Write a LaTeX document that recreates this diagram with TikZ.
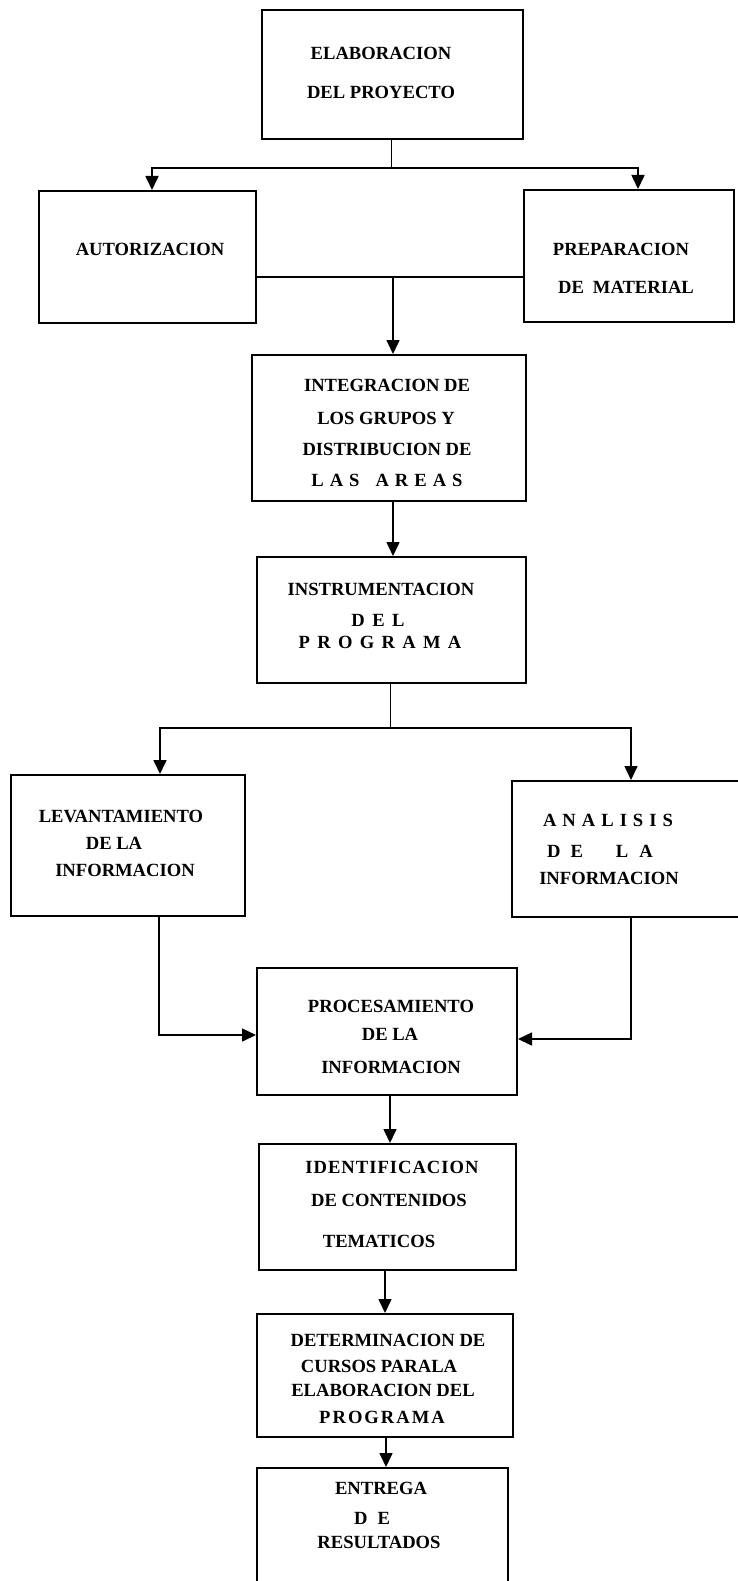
\documentclass[tikz,border=0pt]{standalone}
\usepackage{fontspec}
\setmainfont{Liberation Serif}
\usetikzlibrary{arrows.meta,calc}
\newcommand\gp[1]{\kern#1pt\relax}
\begin{document}
\begin{tikzpicture}[x=1pt,y=-1pt,
  box/.style={draw=black, line width=2pt, inner sep=0pt, fill=none},
  txt/.style={font=\bfseries\fontsize{18.6}{22}\selectfont, inner sep=0pt, anchor=center, text=black},
  conn/.style={draw=black, line width=1.6pt},
  arr/.style={conn, -{Triangle[length=14pt,width=13pt]}}]
\useasboundingbox (0,0) rectangle (738,1581);
\clip (0,0) rectangle (738,1581);
\fill[white] (0,0) rectangle (738,1581);

% boxes
\node[box, minimum width=261pt, minimum height=129pt] (b1) at (392.5,74.5) {};
\node[box, minimum width=217pt, minimum height=132pt] (aut) at (147.5,257) {};
\node[box, minimum width=210pt, minimum height=132pt] (prep) at (629,256) {};
\node[box, minimum width=274pt, minimum height=146pt] (integ) at (389,428) {};
\node[box, minimum width=269pt, minimum height=126pt] (instr) at (391.5,620) {};
\node[box, minimum width=234pt, minimum height=141pt] (lev) at (128,845.5) {};
\node[box, minimum width=233pt, minimum height=136pt] (anal) at (628.5,849) {};
\node[box, minimum width=260pt, minimum height=127pt] (proc) at (387,1031.5) {};
\node[box, minimum width=257pt, minimum height=126pt] (ident) at (387.5,1207) {};
\node[box, minimum width=256pt, minimum height=123pt] (det) at (385,1375.5) {};
\node[box, minimum width=251pt, minimum height=132pt] (entr) at (382.5,1534) {};

% texts
\node[txt] (t1a) at (381,53) {ELABORACION};
\node[txt] (t1b) at (381,92) {DEL PROYECTO};
\node[txt] (t2) at (150,249) {AUTORIZACION};
\node[txt] (t3a) at (621,249) {PREPARACION};
\node[txt] (t3b) at (626,287) {DE\gp{9}MATERIAL};
\node[txt] (t4a) at (387,385) {INTEGRACION DE};
\node[txt] (t4b) at (386,418) {LOS GRUPOS Y};
\node[txt] (t4c) at (387,449) {DISTRIBUCION DE};
\node[txt] (t4d) at (387,480) {L\gp{6}A\gp{6}S\gp{16}A\gp{6}R\gp{6}E\gp{6}A\gp{6}S};
\node[txt] (t5a) at (381,589) {INSTRUMENTACION};
\node[txt] (t5b) at (378,620) {D\gp{7.5}E\gp{7.5}L};
\node[txt] (t5c) at (380,642) {P\gp{7.3}R\gp{7.3}O\gp{7.3}G\gp{7.3}R\gp{7.3}A\gp{7.3}M\gp{7.3}A};
\node[txt] (t6a) at (121,816) {LEVANTAMIENTO};
\node[txt] (t6b) at (114,843) {DE LA};
\node[txt] (t6c) at (125,870) {INFORMACION};
\node[txt] (t7a) at (608,820) {A\gp{6}N\gp{6}A\gp{6}L\gp{6}I\gp{6}S\gp{6}I\gp{6}S};
\node[txt] (t7b) at (600,851) {D\gp{10}E\gp{33}L\gp{11}A};
\node[txt] (t7c) at (609,878) {INFORMACION};
\node[txt] (t8a) at (391,1006) {PROCESAMIENTO};
\node[txt] (t8b) at (390,1034) {DE LA};
\node[txt] (t8c) at (391,1067) {INFORMACION};
\node[txt] (t9a) at (392,1167) {I\gp{1}D\gp{1}E\gp{1}N\gp{1}T\gp{1}I\gp{1}F\gp{1}I\gp{1}C\gp{1}A\gp{1}C\gp{1}I\gp{1}O\gp{1}N};
\node[txt] (t9b) at (389,1200) {DE CONTENIDOS};
\node[txt] (t9c) at (379,1241) {TEMATICOS};
\node[txt] (t10a) at (388,1340) {DETERMINACION DE};
\node[txt] (t10b) at (379,1366) {CURSOS PARALA};
\node[txt] (t10c) at (383,1390) {ELABORACION DEL};
\node[txt] (t10d) at (382,1417) {P\gp{2}R\gp{2}O\gp{2}G\gp{2}R\gp{2}A\gp{2}M\gp{2}A};
\node[txt] (t11a) at (381,1488) {ENTREGA};
\node[txt] (t11b) at (372,1518) {D\gp{10}E};
\node[txt] (t11c) at (379,1542) {RESULTADOS};

% connectors
\coordinate (s1) at (391.5,168);
\draw[conn] (b1.south -| s1) -- (s1);
\draw[arr] (s1) -| ([xshift=4.5pt]aut.north);
\draw[arr] (s1) -| ([xshift=9pt]prep.north);
\coordinate (j1) at (393,277);
\draw[conn] (aut.east |- j1) -- (prep.west |- j1);
\draw[arr] (j1) -- (j1 |- integ.north);
\draw[arr] ([xshift=4pt]integ.south) -- ([xshift=4pt]integ.south |- instr.north);
\coordinate (s2) at (390.5,728);
\draw[conn] (instr.south -| s2) -- (s2);
\draw[arr] (s2) -| ([xshift=32pt]lev.north);
\draw[arr] (s2) -| ([xshift=2.5pt]anal.north);
\draw[arr] ([xshift=31pt]lev.south) |- ([yshift=-3.5pt]proc.west);
\draw[arr] ([xshift=2.5pt]anal.south) |- ([yshift=-7.5pt]proc.east);
\draw[arr] ([xshift=3pt]proc.south) -- ([xshift=3pt]proc.south |- ident.north);
\draw[arr] ([xshift=-2.5pt]ident.south) -- ([xshift=-2.5pt]ident.south |- det.north);
\draw[arr] ([xshift=1pt]det.south) -- ([xshift=1pt]det.south |- entr.north);
\end{tikzpicture}
\end{document}
